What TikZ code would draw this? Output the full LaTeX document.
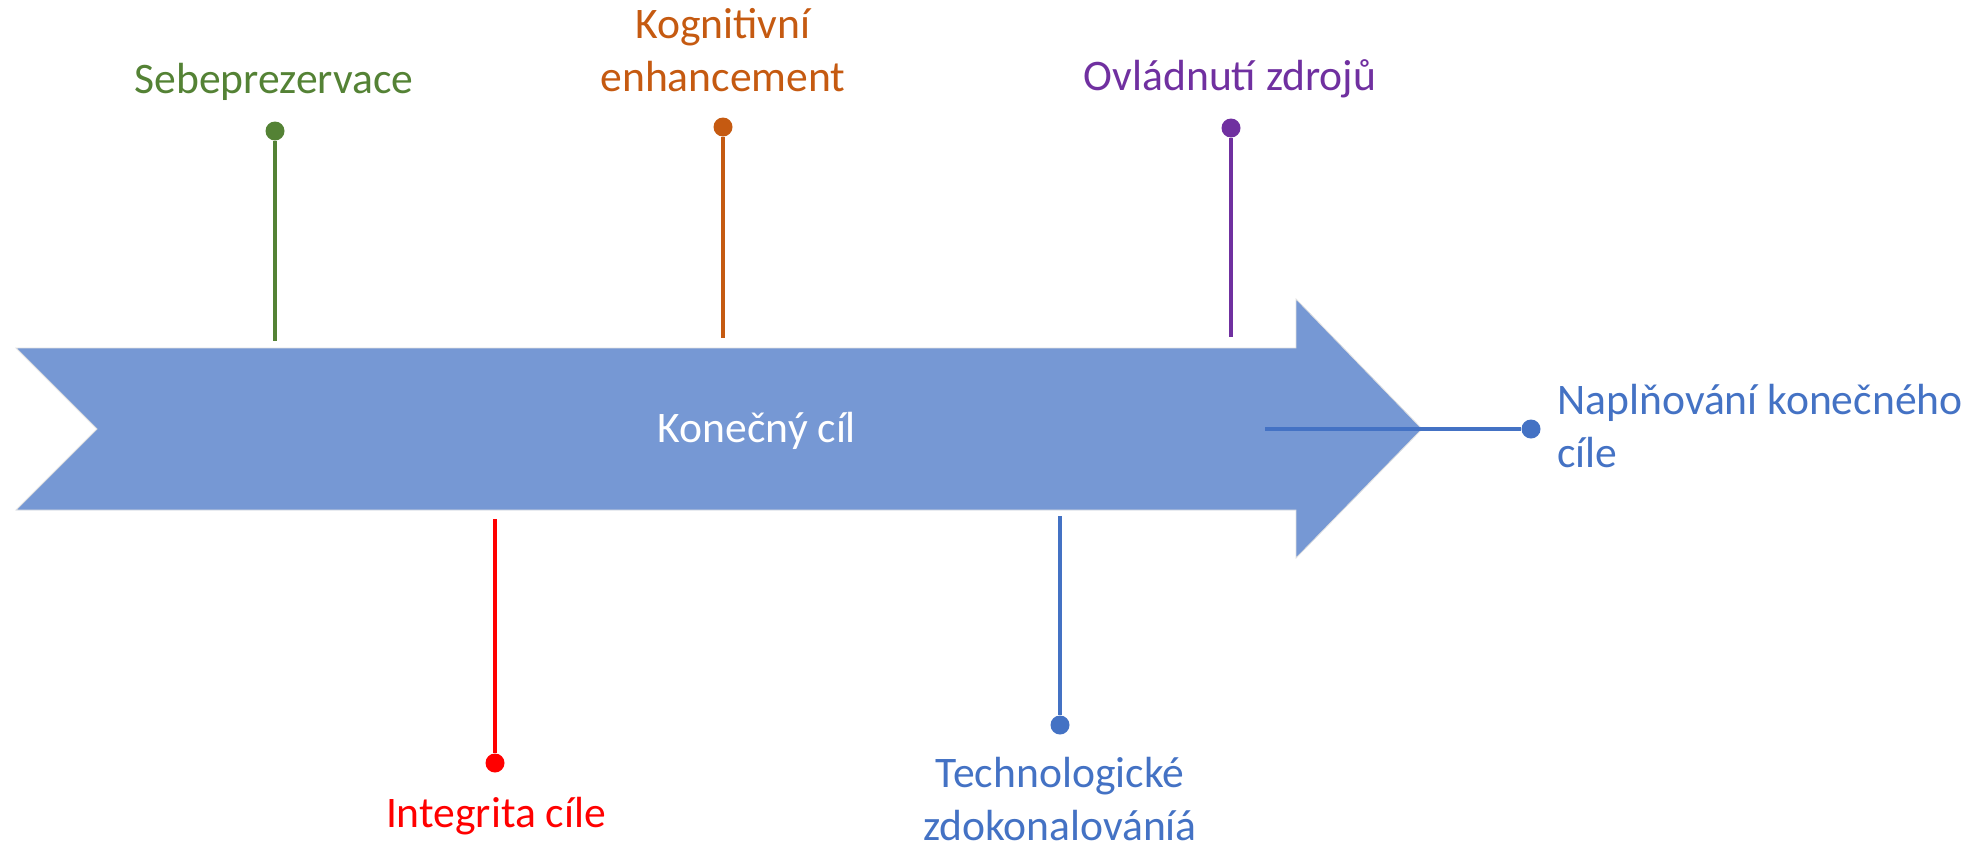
\documentclass[tikz,border=0pt]{standalone}
\usepackage{fontspec}
\setmainfont{Carlito}
\definecolor{arrowfill}{HTML}{7698D4}
\definecolor{cgreen}{HTML}{548235}
\definecolor{corange}{HTML}{C55A11}
\definecolor{cpurple}{HTML}{7030A0}
\definecolor{cred}{HTML}{FF0000}
\definecolor{cblue}{HTML}{4472C4}
\begin{document}
\begin{tikzpicture}[x=0.5pt,y=-0.5pt,
  lbl/.style={font=\fontsize{21.8}{26.25}\selectfont, inner sep=0pt, align=center},
  dot/.style={circle, fill, inner sep=0pt, minimum size=9.5pt},
  stem/.style={line width=1.8pt}]
\useasboundingbox (0,0) rectangle (1979,847);

% main arrow
\fill[arrowfill, draw=black!12, line width=0.4pt]
  (16,348) -- (1296,348) -- (1296,299) -- (1422,429) -- (1296,558)
  -- (1296,510) -- (16,510) -- (97,429) -- cycle;
\node[lbl, text=white, anchor=base] (goal) at (757,442) {Konečný cíl};

% upper branches (two-line labels are placed by their last baseline)
\node[dot, cgreen] (sdot) at (275,131) {};
\coordinate (send) at (275,341);
\draw[stem, cgreen] (sdot) -- (send);
\node[lbl, text=cgreen, anchor=base] (slbl) at (274,93) {Sebeprezervace};

\node[dot, corange] (kdot) at (723,127) {};
\coordinate (kend) at (723,338);
\draw[stem, corange] (kdot) -- (kend);
\node[lbl, text=corange, anchor=base] (klbl) at (723,91) {Kognitivní\\enhancement};

\node[dot, cpurple] (odot) at (1231,128) {};
\coordinate (oend) at (1231,337);
\draw[stem, cpurple] (odot) -- (oend);
\node[lbl, text=cpurple, anchor=base] (olbl) at (1230,90) {Ovládnutí zdrojů};

% lower branches
\node[dot, cred] (idot) at (495,763) {};
\coordinate (iend) at (495,519);
\draw[stem, cred] (iend) -- (idot);
\node[lbl, text=cred, anchor=base] (ilbl) at (496,827) {Integrita cíle};

\node[dot, cblue] (tdot) at (1060,725) {};
\coordinate (tend) at (1060,516);
\draw[stem, cblue] (tend) -- (tdot);
\node[lbl, text=cblue, anchor=base] (tlbl) at (1060,840) {Technologické\\zdokonalováníá};

% end of the line
\node[dot, cblue] (ndot) at (1531,429) {};
\coordinate (nstart) at (1265,429);
\draw[stem, cblue, line width=2pt] (nstart) -- (ndot);
\node[lbl, text=cblue, align=left, anchor=base west] (nlbl) at (1557,467) {Naplňování konečného\\cíle};
\end{tikzpicture}
\end{document}
